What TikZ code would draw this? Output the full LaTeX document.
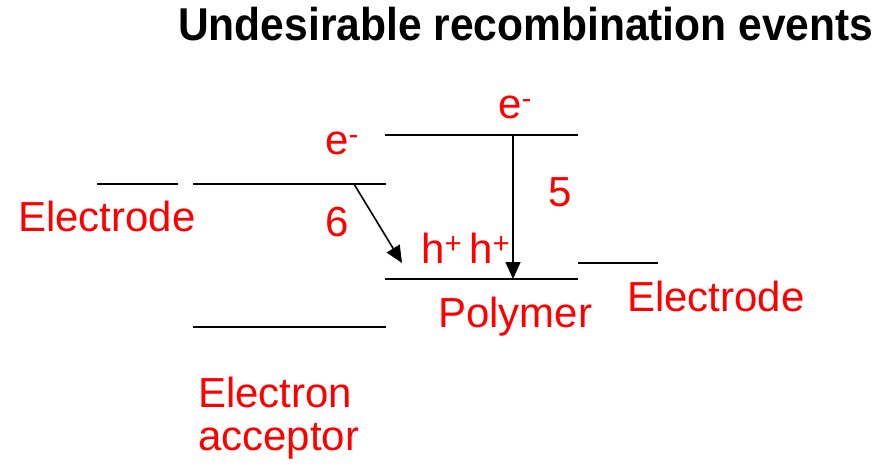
\documentclass[tikz,border=0pt]{standalone}
\usepackage{fontspec}
\setmainfont{Liberation Sans}
\usetikzlibrary{arrows.meta}
\begin{document}
\begin{tikzpicture}[x=1pt,y=-1pt,
  level/.style={line width=2pt,black},
  lbl/.style={text=red,inner sep=0pt,anchor=base west,font=\fontsize{42}{48}\selectfont},
  arr/.style={line width=1.6pt,-{Triangle[length=17pt,width=15pt]}}]
\useasboundingbox (0,0) rectangle (893,467);
% title
\node[anchor=base west,inner sep=0pt] (title) at (178,40)
  {\scalebox{0.925}[1]{\fontsize{46}{52}\selectfont\bfseries Undesirable recombination events}};
% levels
\coordinate (elL1) at (97,184); \coordinate (elL2) at (178,184);
\coordinate (acL1) at (193,184); \coordinate (acL2) at (386,184);
\coordinate (acH1) at (193,327); \coordinate (acH2) at (386,327);
\coordinate (poL1) at (385,135); \coordinate (poL2) at (578,135);
\coordinate (poH1) at (385,279); \coordinate (poH2) at (578,279);
\coordinate (elR1) at (578,263); \coordinate (elR2) at (658,263);
\draw[level] (elL1) -- (elL2);
\draw[level] (acL1) -- (acL2);
\draw[level] (acH1) -- (acH2);
\draw[level] (poL1) -- (poL2);
\draw[level] (poH1) -- (poH2);
\draw[level] (elR1) -- (elR2);
% arrows
\coordinate (a5s) at (513,135); \coordinate (a5e) at (513,279);
\coordinate (a6s) at (354,184); \coordinate (a6e) at (402,263);
\draw[arr] (a5s) -- (a5e);
\draw[arr] (a6s) -- (a6e);
% labels
\node[lbl] (eL) at (325,154) {e\textsuperscript{-}};
\node[lbl] (eT) at (498,118) {e\textsuperscript{-}};
\node[lbl] (n5) at (548,206) {5};
\node[lbl] (n6) at (325,236) {6};
\node[lbl] (hh) at (421,263) {h\textsuperscript{+}\,h\textsuperscript{+}};
\node[lbl] (elecL) at (18,231) {Electrode};
\node[lbl] (elecR) at (627,311) {Electrode};
\node[lbl] (poly) at (438,327) {Polymer};
\node[lbl] (acc1) at (198,407) {Electron};
\node[lbl] (acc2) at (198,450) {acceptor};
\end{tikzpicture}
\end{document}
